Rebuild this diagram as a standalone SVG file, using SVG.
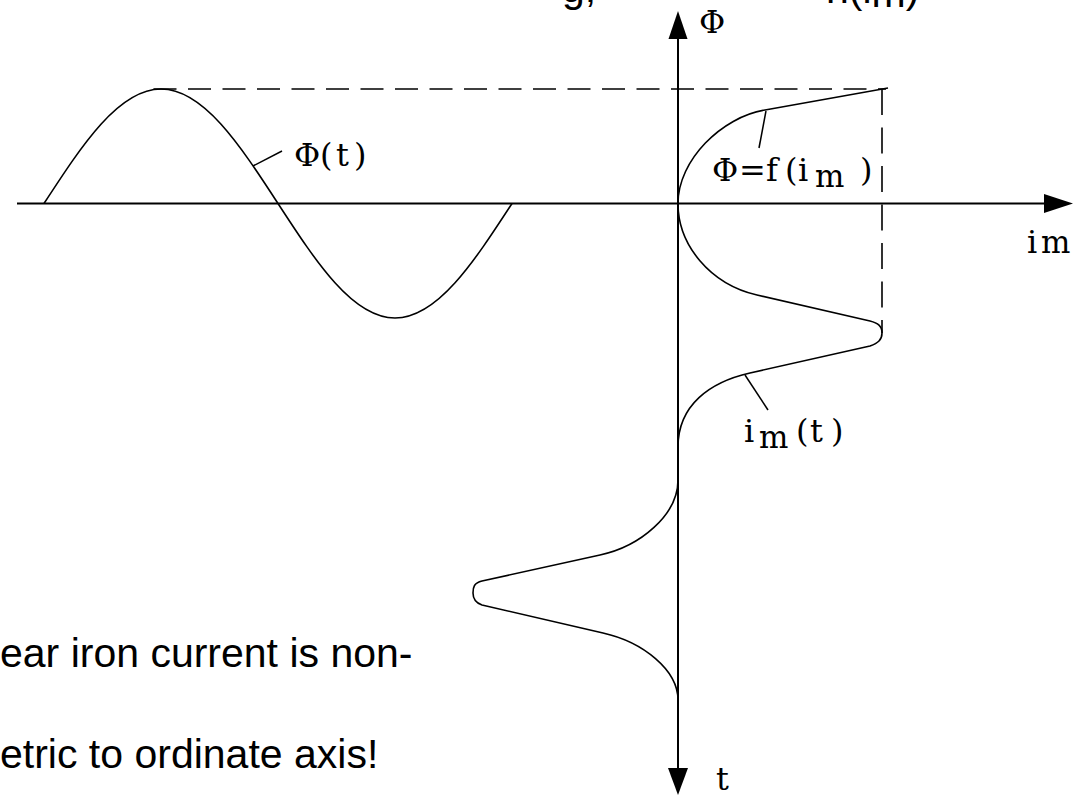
<svg xmlns="http://www.w3.org/2000/svg" width="1081" height="795" viewBox="0 0 1081 795">
<style>
  .ax { stroke: #000; stroke-width: 2; fill: none; }
  .cv { stroke: #000; stroke-width: 1.6; fill: none; stroke-linejoin: round; }
  .ld { stroke: #000; stroke-width: 1.5; fill: none; }
  .dh { stroke: #000; stroke-width: 1.6; fill: none; }
  .ah { fill: #000; stroke: none; }
  .lbl { font-family: "DejaVu Serif", "Liberation Serif", serif; font-size: 32px; fill: #000; }
  .sub { font-size: 31px; }
  .txt { font-family: "Liberation Sans", Arial, sans-serif; font-size: 41px; fill: #000; }
</style>
<rect width="1081" height="795" fill="#fff"/>

<g id="connectors">
  <!-- axes -->
  <line class="ax" x1="17" y1="203.5" x2="1050" y2="203.5"/>
  <polygon class="ah" points="1073,203.5 1044,194 1044,213"/>
  <line class="ax" x1="678" y1="35" x2="678" y2="772"/>
  <polygon class="ah" points="678,11 668.5,39 687.5,39"/>
  <polygon class="ah" points="678,795 668,768 688,768"/>
  <!-- dashed guides -->
  <line class="dh" x1="153.5" y1="89" x2="886" y2="89" stroke-dasharray="23 11.5"/>
  <line class="dh" x1="882" y1="89" x2="882" y2="333" stroke-dasharray="26 12.5"/>
  <!-- leaders -->
  <line class="ld" x1="253" y1="166" x2="282" y2="151"/>
  <line class="ld" x1="766" y1="111" x2="759" y2="148"/>
  <line class="ld" x1="745" y1="375" x2="768" y2="410"/>
</g>

<g id="phi-t">
  <path class="cv" d="M44,203.5 C82.2,144.8 118.7,89 161,89 C203.4,89 239.8,144.8 278,203.5 C316.2,262.2 352.7,318 395,318 C437.4,318 473.8,262.2 512,203.5"/>
  <text class="lbl" x="294 320 336 354" y="166">Φ(t)</text>
</g>

<g id="magnetization">
  <path class="cv" d="M678,203.5 C678,160 722,117 765,110 L888,88"/>
  <text class="lbl" x="712 739 766 785 798" y="181">Φ=f(i</text>
  <text class="lbl sub" x="815" y="187">m</text>
  <text class="lbl" x="860" y="181">)</text>
</g>

<g id="im-t">
  <path class="cv" d="M678,203.5 C678,245 710,284 757,295 L870,321 C878,323 882,326 882,333 C882,340 878,343 870,346 L750,373 C710,382 678,405 678,447 L678,480 C678,515 640,546.5 600,555 L482,581 C474,583 473,587 473,593 C473,599 476,603 482,605 L603,633 C643,642 678,670 678,700"/>
  <text class="lbl" x="744" y="442">i</text>
  <text class="lbl sub" x="759" y="448">m</text>
  <text class="lbl" x="796 810 831" y="442">(t)</text>
</g>

<g id="axis-labels">
  <text class="lbl" x="699" y="33">Φ</text>
  <text class="lbl" x="1027" y="253">i</text>
  <text class="lbl sub" x="1041" y="253">m</text>
  <text class="lbl" x="716" y="790">t</text>
</g>

<g id="notes">
  <text class="txt" x="0" y="667">ear iron current is non-</text>
  <text class="txt" x="0" y="768">etric to ordinate axis!</text>
  <text class="txt" x="562" y="2" font-size="30">g,</text>
  <text class="txt" x="826" y="3" font-size="24">n(i<tspan dy="4">m</tspan><tspan dy="-4">)</tspan></text>
</g>
</svg>
